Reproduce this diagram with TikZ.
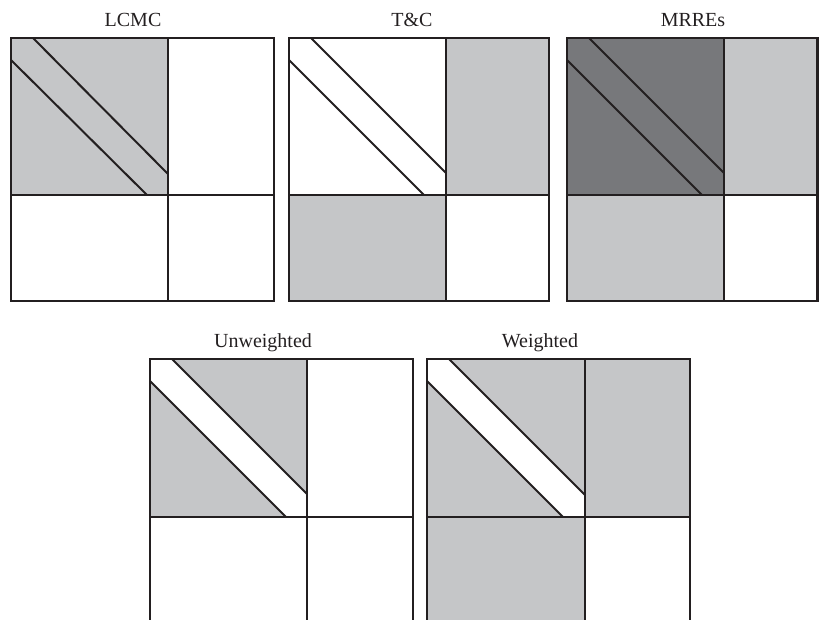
\documentclass[tikz,border=0pt]{standalone}
\usepackage{fontspec}
\setmainfont{Liberation Serif}
\definecolor{lgray}{HTML}{C5C6C8}
\definecolor{dgray}{HTML}{77787B}
\definecolor{ink}{HTML}{231F20}
\tikzset{
  frame/.style={draw=ink, line width=2.6pt, line cap=rect},
  diag/.style={draw=ink, line width=2pt},
  title/.style={anchor=base, inner sep=0pt, text=ink, font=\fontsize{20}{24}\selectfont}
}
\begin{document}
\begin{tikzpicture}[x=1pt,y=-1pt]
\useasboundingbox (0,0) rectangle (819,619);
% ---------- LCMC ----------
\fill[lgray] (11,38) rectangle (168,195);
\draw[diag] (33,38) -- (168,174);
\draw[diag] (11,60) -- (147,195);
\draw[frame] (11,38) rectangle (274,301);
\draw[frame] (168,38) -- (168,301);
\draw[frame] (11,195) -- (274,195);
\node[title] (t1) at (133,26) {LCMC};
% ---------- T&C ----------
\fill[lgray] (446,38) rectangle (549,195);
\fill[lgray] (289,195) rectangle (446,301);
\draw[diag] (311,38) -- (446,173);
\draw[diag] (289,60) -- (424,195);
\draw[frame] (289,38) rectangle (549,301);
\draw[frame] (446,38) -- (446,301);
\draw[frame] (289,195) -- (549,195);
\node[title] (t2) at (412,26) {T\&C};
% ---------- MRREs ----------
\fill[dgray] (567,38) rectangle (724,195);
\fill[lgray] (724,38) rectangle (817.5,195);
\fill[lgray] (567,195) rectangle (724,301);
\draw[diag] (589,38) -- (724,173);
\draw[diag] (567,60) -- (702,195);
\draw[frame] (567,38) rectangle (817.5,301);
\draw[frame] (724,38) -- (724,301);
\draw[frame] (567,195) -- (817.5,195);
\node[title] (t3) at (693,26) {MRREs};
% ---------- Unweighted ----------
\fill[lgray] (150,359) rectangle (307,517);
\fill[white] (150,359) -- (172,359) -- (307,494) -- (307,517) -- (286,517) -- (150,381) -- cycle;
\draw[diag] (172,359) -- (307,494);
\draw[diag] (150,381) -- (286,517);
\draw[frame] (150,625) -- (150,359) -- (413,359) -- (413,625);
\draw[frame] (307,359) -- (307,625);
\draw[frame] (150,517) -- (413,517);
\node[title] (t4) at (263,347) {Unweighted};
% ---------- Weighted ----------
\fill[lgray] (427,359) rectangle (690,517);
\fill[lgray] (427,517) rectangle (585,625);
\fill[white] (427,359) -- (449,359) -- (585,495) -- (585,517) -- (563,517) -- (427,381) -- cycle;
\draw[diag] (449,359) -- (585,495);
\draw[diag] (427,381) -- (563,517);
\draw[frame] (427,625) -- (427,359) -- (690,359) -- (690,625);
\draw[frame] (585,359) -- (585,625);
\draw[frame] (427,517) -- (690,517);
\node[title] (t5) at (540,347) {Weighted};
\end{tikzpicture}
\end{document}
